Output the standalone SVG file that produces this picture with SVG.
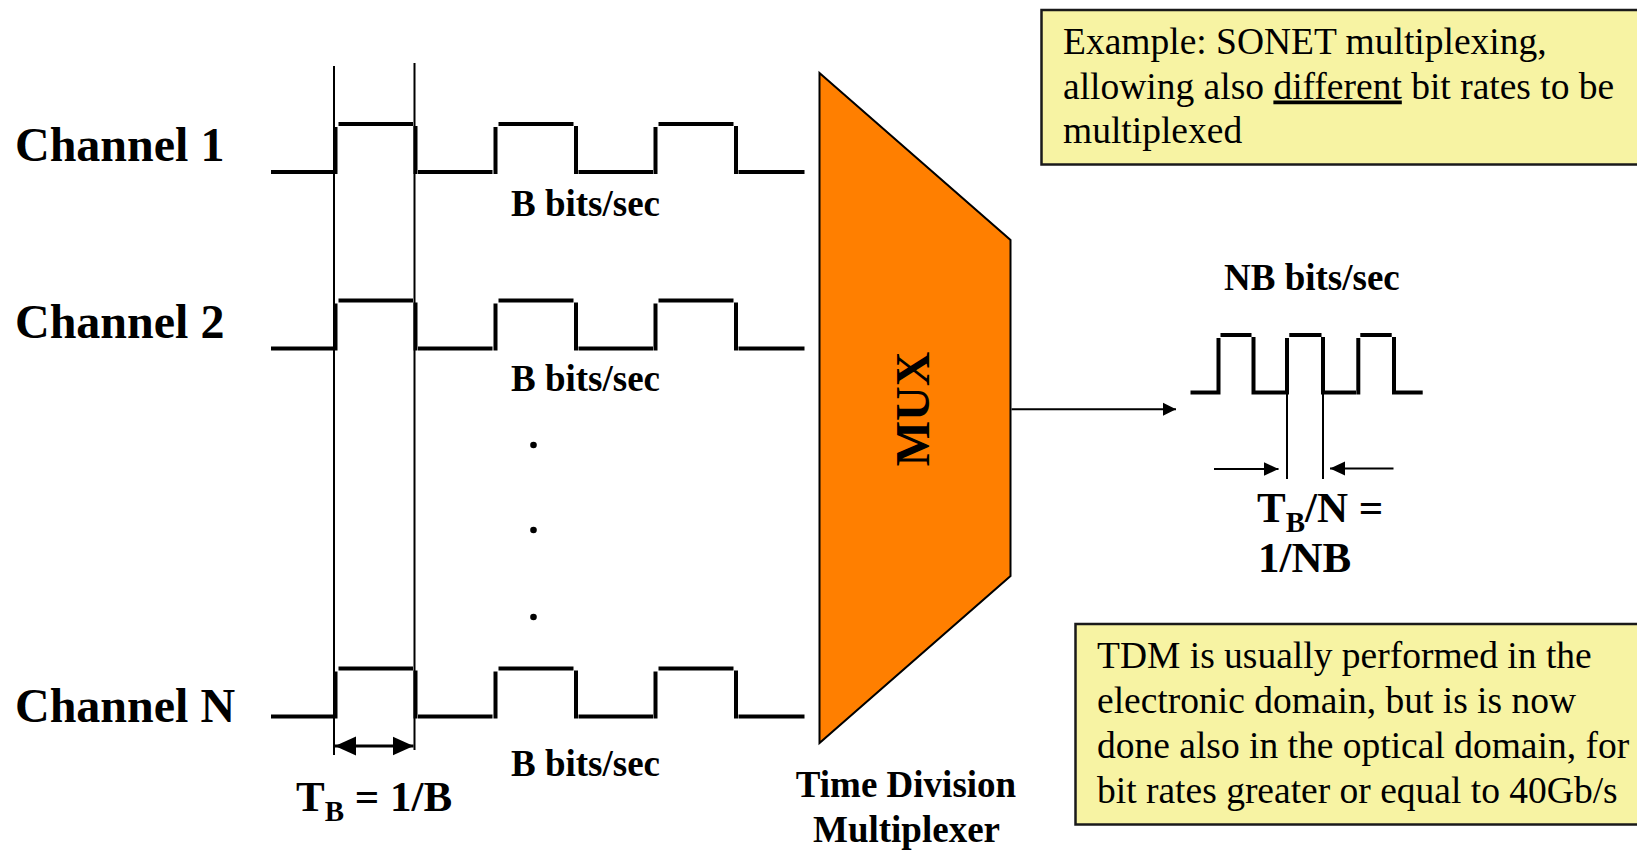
<svg xmlns="http://www.w3.org/2000/svg" xmlns:xlink="http://www.w3.org/1999/xlink" width="1637" height="851" viewBox="0 0 1637 851">
  <style>
    .sig { stroke: #000; stroke-width: 4; fill: none; stroke-linecap: butt; }
    .thin { stroke: #000; stroke-width: 2; fill: none; }
    .serifb { font-family: "Liberation Serif", "Times New Roman", serif; font-weight: bold; fill: #000; }
    .chan { font-size: 48px; }
    .rate { font-size: 37px; }
    .tb { font-size: 43px; }
    .sub { font-size: 29px; }
    .note { font-family: "Liberation Serif", "Times New Roman", serif; font-size: 37.5px; fill: #000; }
    .box { fill: #F7F3A3; stroke: #1a1a1a; stroke-width: 2.5; }
  </style>
  <defs>
    <!-- one input bit stream, low level at y=0, high level at y=-48 -->
    <g id="wave">
      <path class="sig" d="M271,0 H333 M335.5,-45 V2 M338.5,-48 H413 M415.5,-46 V2 M418,0 H492.5
                           M495.5,-45 V2 M498.5,-48 H573.5 M576,-46 V2 M578.5,0 H653
                           M655.5,-45 V2 M658.5,-48 H733.5 M736,-46 V2 M738.5,0 H804.5"/>
    </g>
    <marker id="ahSmall" markerUnits="userSpaceOnUse" markerWidth="14" markerHeight="14" refX="13" refY="7" orient="auto">
      <path d="M0,0.5 L13,7 L0,13.5 z" fill="#000"/>
    </marker>
    <marker id="ahMid" markerUnits="userSpaceOnUse" markerWidth="16" markerHeight="16" refX="15" refY="7.5" orient="auto">
      <path d="M0,0.5 L15,7.5 L0,14.5 z" fill="#000"/>
    </marker>
    <marker id="ahBig" markerUnits="userSpaceOnUse" markerWidth="22" markerHeight="20" refX="21" refY="10" orient="auto-start-reverse">
      <path d="M0,0.5 L21,10 L0,19.5 z" fill="#000"/>
    </marker>
  </defs>

  <!-- input channels -->
  <g id="channel1">
    <text class="serifb chan" x="15" y="161">Channel 1</text>
    <use xlink:href="#wave" transform="translate(0,172)"/>
    <text class="serifb rate" x="511" y="216">B bits/sec</text>
  </g>
  <g id="channel2">
    <text class="serifb chan" x="15" y="338">Channel 2</text>
    <use xlink:href="#wave" transform="translate(0,348.5)"/>
    <text class="serifb rate" x="511" y="391">B bits/sec</text>
  </g>
  <g id="ellipsis">
    <circle cx="533.5" cy="445" r="3.3" fill="#000"/>
    <circle cx="533.5" cy="530" r="3.3" fill="#000"/>
    <circle cx="533.5" cy="617" r="3.3" fill="#000"/>
  </g>
  <g id="channelN">
    <text class="serifb chan" x="15" y="722">Channel N</text>
    <use xlink:href="#wave" transform="translate(0,716.5)"/>
    <text class="serifb rate" x="511" y="776">B bits/sec</text>
  </g>

  <!-- bit period of one input stream -->
  <g id="inputPeriod">
    <line class="thin" x1="334" y1="66" x2="334" y2="755"/>
    <line class="thin" x1="414.5" y1="63" x2="414.5" y2="750"/>
    <line x1="335" y1="746" x2="413.5" y2="746" stroke="#000" stroke-width="3" marker-start="url(#ahBig)" marker-end="url(#ahBig)"/>
    <text class="serifb tb" x="296" y="811">T<tspan class="sub" dy="10">B</tspan><tspan dy="-10"> = 1/B</tspan></text>
  </g>

  <!-- multiplexer block -->
  <g id="mux">
    <polygon points="819.5,73 1010.5,240 1010.5,576 819.5,743" fill="#FF7F00" stroke="#000" stroke-width="2" stroke-linejoin="miter"/>
    <text class="serifb" font-size="48" text-anchor="middle" transform="translate(929,409) rotate(-90)">MUX</text>
    <text class="serifb rate" x="906" y="797" text-anchor="middle">Time Division</text>
    <text class="serifb rate" x="906.5" y="842" text-anchor="middle">Multiplexer</text>
  </g>

  <!-- connectors -->
  <g id="connectors">
    <line x1="1011.5" y1="409.3" x2="1176" y2="409.3" stroke="#000" stroke-width="2" marker-end="url(#ahSmall)"/>
  </g>

  <!-- multiplexed output stream -->
  <g id="output">
    <text class="serifb rate" x="1224" y="290">NB bits/sec</text>
    <path class="sig" d="M1190.5,392.5 H1216.5 M1218.5,338 V394.5 M1220.5,335 H1251.5 M1253.5,337 V394.5 M1255.5,392.5 H1285
                         M1287,338 V394.5 M1289.3,335 H1321.5 M1323,337 V394.5 M1325,392.5 H1356
                         M1358.3,338 V394.5 M1360.3,335 H1391.7 M1394,337 V394.5 M1396,392.5 H1422.7"/>
    <line class="thin" x1="1287" y1="392" x2="1287" y2="479"/>
    <line class="thin" x1="1323" y1="392" x2="1323" y2="479"/>
    <line x1="1214" y1="469" x2="1278.5" y2="469" stroke="#000" stroke-width="2" marker-end="url(#ahMid)"/>
    <line x1="1393.5" y1="468.5" x2="1330" y2="468.5" stroke="#000" stroke-width="2" marker-end="url(#ahMid)"/>
    <text class="serifb tb" x="1257" y="522">T<tspan class="sub" dy="10">B</tspan><tspan dy="-10">/N =</tspan></text>
    <text class="serifb tb" x="1258" y="572">1/NB</text>
  </g>

  <!-- notes -->
  <g id="noteSonet">
    <rect class="box" x="1041.5" y="10" width="610" height="154.5"/>
    <text class="note" x="1063" y="54">Example: SONET multiplexing,</text>
    <text class="note" x="1063" y="98.5">allowing also <tspan text-decoration="underline">different</tspan> bit rates to be</text>
    <text class="note" x="1063" y="143">multiplexed</text>
  </g>
  <g id="noteOptical">
    <rect class="box" x="1075.5" y="624" width="580" height="200.5"/>
    <text class="note" x="1097" y="668">TDM is usually performed in the</text>
    <text class="note" x="1097" y="713">electronic domain, but is is now</text>
    <text class="note" x="1097" y="758">done also in the optical domain, for</text>
    <text class="note" x="1097" y="803">bit rates greater or equal to 40Gb/s</text>
  </g>
</svg>
